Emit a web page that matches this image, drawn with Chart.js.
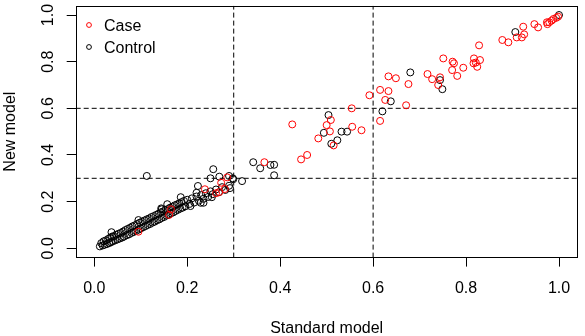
<!DOCTYPE html>
<html><head><meta charset="utf-8">
<script src="https://cdn.jsdelivr.net/npm/chart.js@4/dist/chart.umd.min.js"></script>
<style>html,body{margin:0;padding:0;background:#fff;}#wrap{width:585px;height:336px;}</style>
</head><body><div id="wrap"><canvas id="c" width="585" height="336"></canvas></div>
<script>
const seriesNames = ["Case", "Control"];
const axisTitles = ["Standard model", "New model"];
const tickValues = [0, 0.2, 0.4, 0.6, 0.8, 1.0];
const tickLabels = ["0.0", "0.2", "0.4", "0.6", "0.8", "1.0"];
const cutoffs = [0.3, 0.6];
const axisMin = -0.04, axisMax = 1.04;

const caseX = [0.998,0.994,0.988,0.984,0.979,0.975,0.974,0.947,0.955,0.923,0.925,0.920,0.909,0.878,0.891,0.828,0.817,0.830,0.821,0.824,0.816,0.794,0.781,0.771,0.774,0.770,0.751,0.744,0.740,0.717,0.727,0.676,0.633,0.649,0.615,0.633,0.626,0.671,0.615,0.592,0.554,0.509,0.500,0.507,0.555,0.575,0.482,0.515,0.426,0.458,0.445,0.366,0.286,0.273,0.238,0.269,0.262,0.281,0.165,0.161,0.095];
const caseY = [0.993,0.988,0.983,0.976,0.969,0.961,0.969,0.961,0.947,0.950,0.917,0.904,0.904,0.893,0.883,0.870,0.814,0.807,0.796,0.778,0.793,0.774,0.739,0.800,0.793,0.764,0.814,0.733,0.700,0.747,0.725,0.704,0.737,0.729,0.679,0.674,0.636,0.613,0.546,0.656,0.600,0.550,0.528,0.501,0.521,0.506,0.471,0.441,0.531,0.400,0.381,0.369,0.304,0.281,0.253,0.241,0.236,0.254,0.167,0.143,0.071];

const controlX = [1.0,0.906,0.680,0.744,0.749,0.638,0.620,0.504,0.494,0.532,0.544,0.523,0.510,0.342,0.379,0.387,0.357,0.387,0.318,0.298,0.290,0.299,0.113,0.256,0.250,0.269,0.292,0.223,0.220,0.253,0.229,0.235,0.207,0.186,0.157,0.145,0.037,0.095,0.144,
0.012,0.015,0.018,0.020,0.022,0.025,0.027,0.030,0.032,0.034,0.036,0.038,0.040,0.042,0.045,0.047,0.050,0.052,0.055,0.057,0.060,0.062,0.064,0.067,0.070,0.072,0.075,0.077,0.080,0.082,0.085,0.087,0.090,0.092,0.095,0.098,0.100,0.103,0.105,0.108,0.110,0.113,0.115,0.118,0.120,0.123,0.125,0.128,0.130,0.133,0.135,0.138,0.140,0.143,0.145,0.148,0.150,0.153,0.155,0.158,0.160,0.163,0.165,0.168,0.170,0.173,0.175,0.178,0.180,0.183,0.185,0.188,0.190,0.193,0.196,0.200,0.205,0.210,0.215,0.220,0.225,0.230,0.235,0.240,0.245,0.250,0.255,0.262,0.268,0.275,0.282,0.290];
const controlY = [1.0,0.927,0.754,0.721,0.682,0.630,0.587,0.571,0.495,0.500,0.500,0.463,0.448,0.369,0.357,0.358,0.343,0.313,0.288,0.300,0.310,0.296,0.310,0.339,0.300,0.307,0.258,0.267,0.238,0.219,0.195,0.195,0.181,0.219,0.189,0.167,0.069,0.121,0.171,
0.008,0.022,0.012,0.030,0.015,0.034,0.018,0.040,0.022,0.045,0.026,0.050,0.030,0.052,0.034,0.058,0.038,0.062,0.042,0.066,0.046,0.072,0.050,0.078,0.056,0.083,0.060,0.088,0.066,0.094,0.070,0.098,0.074,0.104,0.080,0.110,0.085,0.114,0.090,0.119,0.095,0.124,0.100,0.128,0.104,0.134,0.110,0.138,0.114,0.143,0.120,0.148,0.124,0.154,0.130,0.158,0.134,0.164,0.140,0.168,0.144,0.174,0.150,0.178,0.154,0.184,0.160,0.188,0.165,0.193,0.170,0.198,0.174,0.203,0.180,0.208,0.190,0.214,0.196,0.222,0.204,0.228,0.212,0.236,0.220,0.244,0.232,0.252,0.240,0.262,0.250,0.268];

const seriesColors = ["#ff0000", "#000000"];
const FONT = '"Liberation Sans", Arial, sans-serif';

function pts(xs, ys) { return xs.map((x, i) => ({ x: x, y: ys[i] })); }

const refLines = [];
cutoffs.forEach(c => {
  refLines.push({ data: [{ x: c, y: axisMin }, { x: c, y: axisMax }] });
  refLines.push({ data: [{ x: axisMin, y: c }, { x: axisMax, y: c }] });
});

const lineDatasets = refLines.map(l => ({
  type: 'line', data: l.data, borderColor: '#000', borderWidth: 1, borderDash: [5, 3],
  pointRadius: 0, fill: false, tension: 0
}));

const frame = {
  id: 'rframe',
  afterDraw(chart) {
    const ctx = chart.ctx, a = chart.chartArea;
    const xs = chart.scales.x, ys = chart.scales.y;
    ctx.save();
    ctx.strokeStyle = '#000'; ctx.lineWidth = 1;
    const l = Math.round(a.left) + 0.5, r = Math.round(a.right) - 0.5;
    const t = Math.round(a.top) + 0.5, b = Math.round(a.bottom) - 0.5;
    ctx.strokeRect(l, t, r - l, b - t);
    ctx.fillStyle = '#000';
    ctx.font = '16px ' + FONT;
    ctx.textAlign = 'center'; ctx.textBaseline = 'alphabetic';
    tickValues.forEach((v, i) => {
      ctx.fillText(tickLabels[i], xs.getPixelForValue(v), a.bottom + 35);
    });
    tickValues.forEach((v, i) => {
      ctx.save();
      ctx.translate(a.left - 23, ys.getPixelForValue(v));
      ctx.rotate(-Math.PI / 2);
      ctx.fillText(tickLabels[i], 0, 0);
      ctx.restore();
    });
    ctx.fillText(axisTitles[0], (a.left + a.right) / 2, 333);
    ctx.save();
    ctx.translate(15, (a.top + a.bottom) / 2);
    ctx.rotate(-Math.PI / 2);
    ctx.fillText(axisTitles[1], 0, 0);
    ctx.restore();
    ctx.textAlign = 'left';
    const ly = [25, 47];
    seriesNames.forEach((n, i) => {
      ctx.beginPath();
      ctx.strokeStyle = seriesColors[i];
      ctx.arc(89, ly[i], 2.4, 0, Math.PI * 2);
      ctx.stroke();
      ctx.fillStyle = '#000';
      ctx.fillText(n, 104, ly[i] + 6);
    });
    ctx.restore();
  }
};

new Chart(document.getElementById('c'), {
  type: 'scatter',
  data: {
    datasets: [
      { label: seriesNames[0], data: pts(caseX, caseY), borderColor: seriesColors[0], backgroundColor: 'rgba(0,0,0,0)', pointRadius: 3.5, borderWidth: 1, pointHoverRadius: 3.5 },
      { label: seriesNames[1], data: pts(controlX, controlY), borderColor: seriesColors[1], backgroundColor: 'rgba(0,0,0,0)', pointRadius: 3.5, borderWidth: 1, pointHoverRadius: 3.5 }
    ].concat(lineDatasets)
  },
  options: {
    responsive: false, animation: false, devicePixelRatio: 1,
    layout: { padding: { top: 5.7, right: 7.4, left: 0, bottom: 0 } },
    plugins: { legend: { display: false }, tooltip: { enabled: false } },
    events: [],
    scales: {
      x: {
        type: 'linear', min: axisMin, max: axisMax,
        afterBuildTicks: s => { s.ticks = tickValues.map(v => ({ value: v })); },
        afterFit: s => { s.height = 78.4; },
        ticks: { display: false },
        grid: { display: true, drawOnChartArea: false, drawTicks: true, tickLength: 9, color: '#000', lineWidth: 1 },
        border: { display: false }
      },
      y: {
        type: 'linear', min: axisMin, max: axisMax,
        afterBuildTicks: s => { s.ticks = tickValues.map(v => ({ value: v })); },
        afterFit: s => { s.width = 75.7; },
        ticks: { display: false },
        grid: { display: true, drawOnChartArea: false, drawTicks: true, tickLength: 9, color: '#000', lineWidth: 1 },
        border: { display: false }
      }
    }
  },
  plugins: [frame]
});
</script>
</body></html>
